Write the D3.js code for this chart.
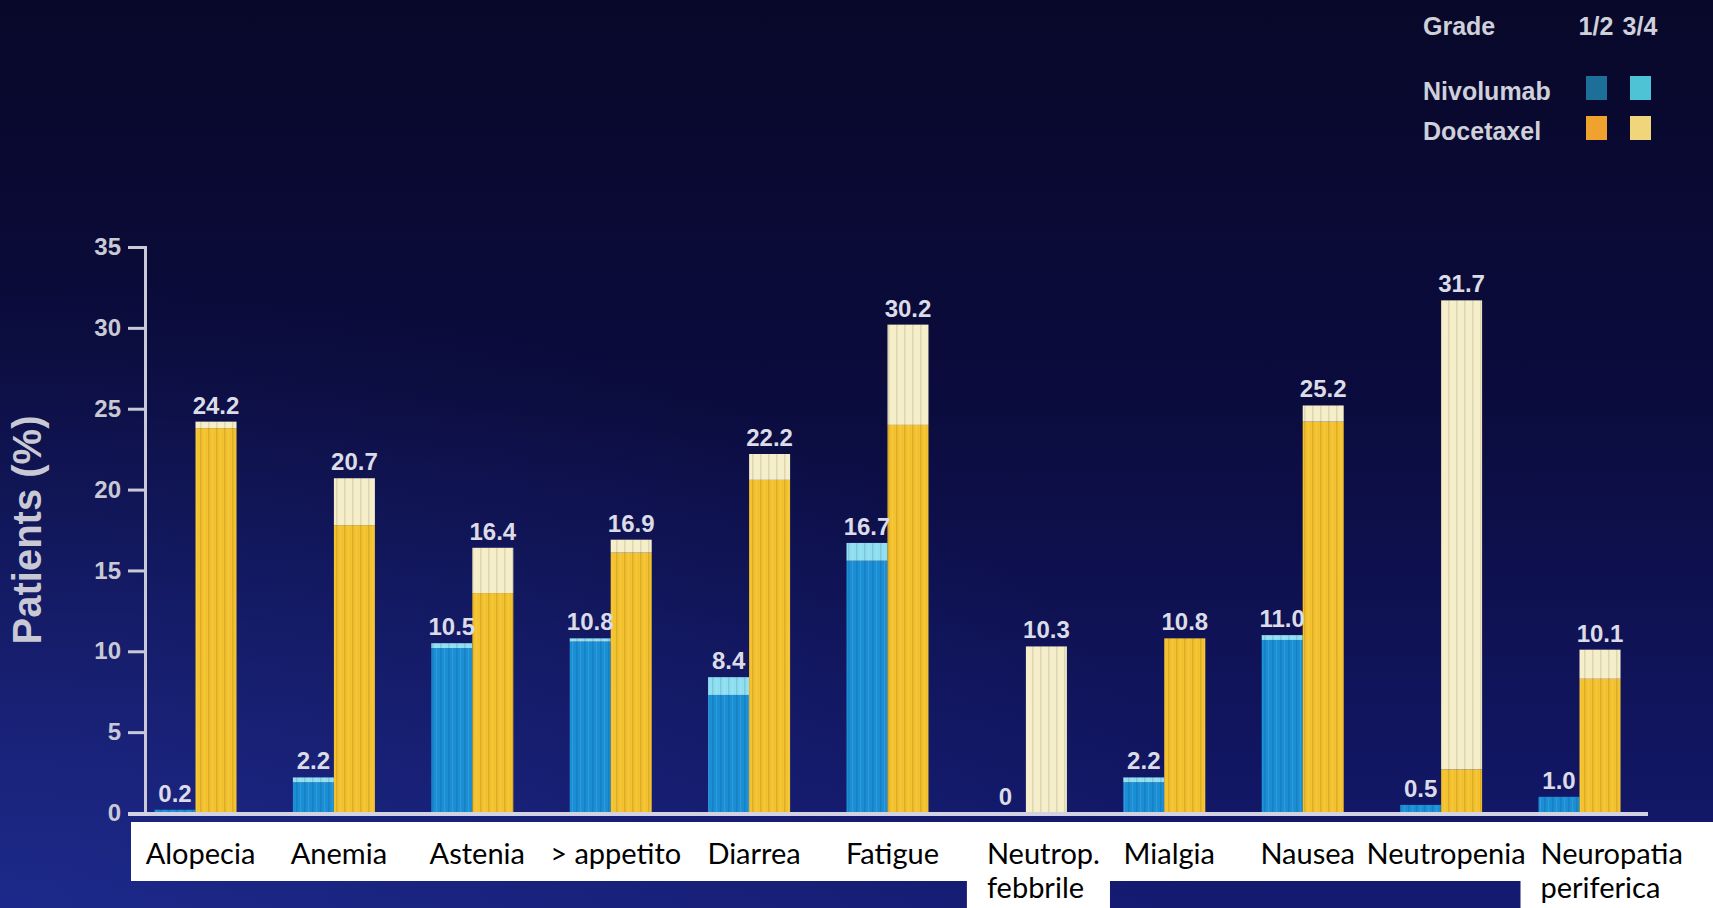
<!DOCTYPE html>
<html>
<head>
<meta charset="utf-8">
<script src="https://cdn.jsdelivr.net/npm/d3@7"></script>
<style>
  body { margin: 0; background: #0b0c38; overflow: hidden; }
  svg text { font-family: "Liberation Sans", Arial, sans-serif; }
</style>
</head>
<body>
<div id="chart"></div>
<script>
// adverse events, % of patients
var categories = ["Alopecia", "Anemia", "Astenia", "> appetito", "Diarrea", "Fatigue",
  "Neutrop. febbrile", "Mialgia", "Nausea", "Neutropenia", "Neuropatia periferica"]
var categoryLines = [["Alopecia"], ["Anemia"], ["Astenia"], ["> appetito"], ["Diarrea"], ["Fatigue"],
  ["Neutrop.", "febbrile"], ["Mialgia"], ["Nausea"], ["Neutropenia"], ["Neuropatia", "periferica"]]

var nivoTotal   = [0.2, 2.2, 10.5, 10.8, 8.4, 16.7, 0, 2.2, 11.0, 0.5, 1.0]
var nivoGrade34 = [0, 0.3, 0.3, 0.2, 1.1, 1.1, 0, 0.3, 0.3, 0, 0]
var docTotal    = [24.2, 20.7, 16.4, 16.9, 22.2, 30.2, 10.3, 10.8, 25.2, 31.7, 10.1]
var docGrade34  = [0.4, 2.9, 2.8, 0.8, 1.6, 6.2, 10.3, 0, 1.0, 29.0, 1.8]

var drugs = ["Nivolumab", "Docetaxel"]
var grades = ["1/2", "3/4"]
var yTicks = [0, 5, 10, 15, 20, 25, 30, 35]

var colors = {
  "Nivolumab": ["#1b8fd6", "#8fdff2"],
  "Docetaxel": ["#f3c22e", "#f6eec9"]
}
var legendColors = {
  "Nivolumab": ["#1c7098", "#4ec3d6"],
  "Docetaxel": ["#f0a22e", "#f0d57a"]
}

var width = 1713, height = 908

var svg = d3.select("#chart")
  .append("svg")
    .attr("width", width)
    .attr("height", height)

var defs = svg.append("defs")

var bg = defs.append("linearGradient")
  .attr("id", "bg")
  .attr("x1", 0).attr("y1", 0).attr("x2", 0).attr("y2", 1)
bg.append("stop").attr("offset", "0%").attr("stop-color", "#08082a")
bg.append("stop").attr("offset", "45%").attr("stop-color", "#0b0c3e")
bg.append("stop").attr("offset", "100%").attr("stop-color", "#141a70")

var glow = defs.append("radialGradient")
  .attr("id", "glow")
  .attr("cx", 0).attr("cy", 1).attr("r", 0.7)
glow.append("stop").attr("offset", "0%").attr("stop-color", "rgba(40,60,170,0.45)")
glow.append("stop").attr("offset", "100%").attr("stop-color", "rgba(40,60,170,0)")

var stripes = defs.append("pattern")
  .attr("id", "stripes")
  .attr("patternUnits", "userSpaceOnUse")
  .attr("width", 8).attr("height", 10)
stripes.append("rect").attr("x", 0).attr("width", 1.5).attr("height", 10).attr("fill", "rgba(0,0,0,0.10)")
stripes.append("rect").attr("x", 4).attr("width", 1).attr("height", 10).attr("fill", "rgba(255,255,255,0.10)")

svg.append("rect").attr("width", width).attr("height", height).attr("fill", "url(#bg)")
svg.append("rect").attr("width", width).attr("height", height).attr("fill", "url(#glow)")

// scales
var y = d3.scaleLinear()
  .domain([0, 35])
  .range([813, 247])

var x = d3.scaleBand()
  .domain(categories)
  .range([154.5, 1620.5])
  .paddingInner(0.4075)
  .paddingOuter(0)

var xSub = d3.scaleBand()
  .domain(drugs)
  .range([0, x.bandwidth()])
  .padding(0)

// build stacked segments
var segments = []
var totals = []
categories.forEach(function(c, i) {
  var series = {
    "Nivolumab": [nivoTotal[i], nivoGrade34[i]],
    "Docetaxel": [docTotal[i], docGrade34[i]]
  }
  drugs.forEach(function(d) {
    var total = series[d][0], g34 = series[d][1]
    segments.push({cat: c, drug: d, grade: 0, low: 0, high: total - g34})
    segments.push({cat: c, drug: d, grade: 1, low: total - g34, high: total})
    totals.push({cat: c, drug: d, value: total})
  })
})

var bars = svg.append("g")

bars.selectAll("rect.seg")
  .data(segments.filter(s => s.high > s.low))
  .enter()
  .append("rect")
    .attr("class", "seg")
    .attr("x", d => x(d.cat) + xSub(d.drug))
    .attr("y", d => y(d.high))
    .attr("width", xSub.bandwidth())
    .attr("height", d => y(d.low) - y(d.high))
    .attr("fill", d => colors[d.drug][d.grade])

bars.selectAll("rect.stripe")
  .data(totals.filter(t => t.value > 0))
  .enter()
  .append("rect")
    .attr("class", "stripe")
    .attr("x", d => x(d.cat) + xSub(d.drug))
    .attr("y", d => y(d.value))
    .attr("width", xSub.bandwidth())
    .attr("height", d => y(0) - y(d.value))
    .attr("fill", "url(#stripes)")

// value labels
svg.append("g").selectAll("text")
  .data(totals)
  .enter()
  .append("text")
    .attr("x", d => x(d.cat) + xSub(d.drug) + xSub.bandwidth() / 2)
    .attr("y", d => y(d.value) - 8)
    .attr("text-anchor", "middle")
    .attr("fill", "#dcdce8")
    .style("font-size", "24px")
    .style("font-weight", "bold")
    .text(d => d.value === 0 ? "0" : d.value.toFixed(1))

// y axis
var yAxis = svg.append("g")
  .attr("transform", "translate(145,0)")
  .call(d3.axisLeft(y).tickValues(yTicks).tickSize(17).tickPadding(7))
yAxis.select(".domain").attr("stroke", "#c9c9d8").attr("stroke-width", 3)
yAxis.selectAll(".tick line").attr("stroke", "#c9c9d8").attr("stroke-width", 3)
yAxis.selectAll(".tick text")
  .attr("fill", "#c9c9d6")
  .style("font-size", "24px")
  .style("font-weight", "bold")
  .style("font-family", "'Liberation Sans', Arial, sans-serif")

// x axis line
svg.append("line")
  .attr("x1", 128).attr("x2", 1648)
  .attr("y1", y(0) + 1).attr("y2", y(0) + 1)
  .attr("stroke", "#d2d2e2")
  .attr("stroke-width", 4)

// y title
svg.append("text")
  .attr("transform", "translate(41,530) rotate(-90)")
  .attr("text-anchor", "middle")
  .attr("fill", "#c9c9d6")
  .style("font-size", "40px")
  .style("font-weight", "bold")
  .text("Patients (%)")

// category labels on white boxes
var labelG = svg.append("g")
labelG.append("rect")
  .attr("x", 131).attr("y", 822)
  .attr("width", width - 131).attr("height", 59)
  .attr("fill", "#ffffff")

categoryLines.forEach(function(lines, i) {
  var c = categories[i]
  var multi = lines.length > 1
  var t = labelG.append("text")
    .attr("fill", "#000000")
    .style("font-family", "Lato, 'Open Sans', sans-serif")
    .style("font-size", "29px")
    .attr("text-anchor", multi ? "start" : "middle")
  lines.forEach(function(line, j) {
    t.append("tspan")
      .attr("x", multi ? x(c) + 2 : x(c) + x.bandwidth() / 2 + 5)
      .attr("y", 864 + j * 34)
      .text(line)
  })
  if (multi) {
    var bb = t.node().getBBox()
    var right = i === categories.length - 1 ? width : bb.x + bb.width + 10
    labelG.insert("rect", "text")
      .attr("x", bb.x - 20).attr("y", 880)
      .attr("width", right - (bb.x - 20)).attr("height", height - 880)
      .attr("fill", "#ffffff")
  }
})

// legend
var legend = svg.append("g")
legend.append("text")
  .attr("x", 1423).attr("y", 35)
  .attr("fill", "#cfd0da")
  .style("font-size", "25px").style("font-weight", "bold")
  .text("Grade")

var colX = [1586, 1630]
grades.forEach(function(g, j) {
  legend.append("text")
    .attr("x", colX[j] + 10).attr("y", 35)
    .attr("text-anchor", "middle")
    .attr("fill", "#cfd0da")
    .style("font-size", "25px").style("font-weight", "bold")
    .text(g)
})

drugs.forEach(function(d, i) {
  var base = 100 + i * 40
  legend.append("text")
    .attr("x", 1423).attr("y", base)
    .attr("fill", "#cfd0da")
    .style("font-size", "25px").style("font-weight", "bold")
    .text(d)
  grades.forEach(function(g, j) {
    legend.append("rect")
      .attr("x", colX[j]).attr("y", base - 24)
      .attr("width", 21).attr("height", 24)
      .attr("fill", legendColors[d][j])
  })
})
</script>
</body>
</html>
